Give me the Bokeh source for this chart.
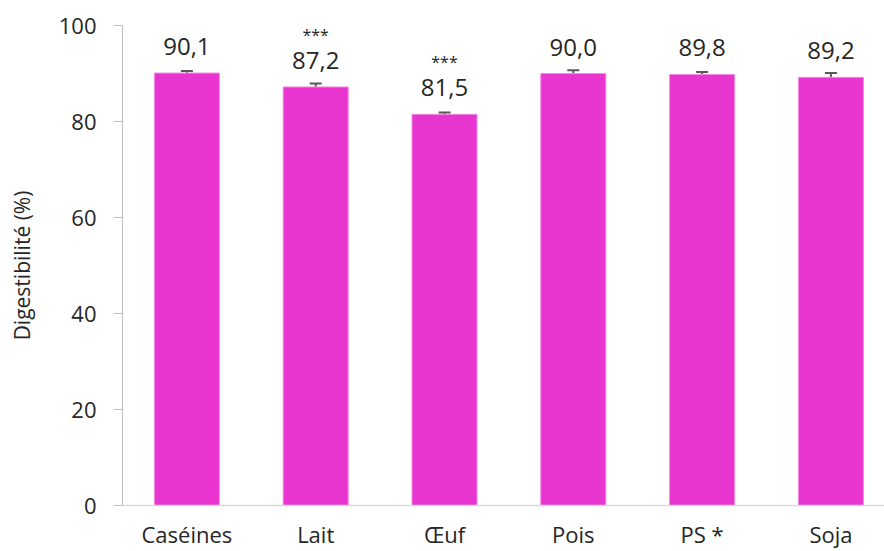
from bokeh.plotting import figure
from bokeh.models import ColumnDataSource, Range1d, FixedTicker, Whisker, TeeHead, LabelSet
from bokeh.core.properties import value
from bokeh.embed import file_html
from bokeh.resources import INLINE
import numpy as np

categories = ["Caséines", "Lait", "Œuf", "Pois", "PS *", "Soja"]
values = [90.1, 87.2, 81.5, 90.0, 89.8, 89.2]
errors = [0.4, 0.7, 0.4, 0.7, 0.5, 0.9]
value_labels = ["90,1", "87,2", "81,5", "90,0", "89,8", "89,2"]
signif = ["", "***", "***", "", "", ""]
y_ticks = [0, 20, 40, 60, 80, 100]

x = np.arange(len(categories)) + 0.5
v = np.array(values)
e = np.array(errors)
src = ColumnDataSource(dict(x=x, value=v, upper=v + e, lower=v - e,
                            label=value_labels, sig=signif))

FONT = "Open Sans"
TXT = "#262626"

p = figure(width=884, height=551, output_backend="svg", toolbar_location=None,
           x_range=Range1d(0, 5.916), y_range=Range1d(0, 100),
           min_border_left=122, min_border_top=25, min_border_bottom=46, min_border_right=0)
p.outline_line_color = None
p.xgrid.grid_line_color = None
p.ygrid.grid_line_color = None

p.vbar(x="x", top="value", width=0.505, source=src, fill_color="#E935CF",
       line_color="#F28BE3", line_width=1)

w = Whisker(base="x", upper="upper", lower="lower", source=src,
            line_color="#595959", line_width=2,
            upper_head=TeeHead(size=12, line_color="#595959", line_width=2),
            lower_head=TeeHead(size=12, line_color="#595959", line_width=2))
p.add_layout(w)

p.add_layout(LabelSet(x="x", y="value", text="label", source=src, y_offset=18,
                      text_align="center", text_baseline="alphabetic",
                      text_font=value(FONT), text_font_size=value("24px"), text_color=TXT))
p.add_layout(LabelSet(x="x", y="value", text="sig", source=src, y_offset=46,
                      text_align="center", text_baseline="alphabetic",
                      text_font=value(FONT), text_font_size=value("16px"), text_color=TXT))

# y axis
ya = p.yaxis[0]
ya.ticker = FixedTicker(ticks=y_ticks)
ya.axis_line_color = "#BFBFBF"
ya.major_tick_line_color = "#BFBFBF"
ya.major_tick_out = 9
ya.major_tick_in = 0
ya.minor_tick_line_color = None
ya.major_label_standoff = 17
ya.major_label_text_font = FONT
ya.major_label_text_font_size = "22px"
ya.major_label_text_color = TXT
ya.axis_label = "Digestibilité (%)"
ya.axis_label_text_font = FONT
ya.axis_label_text_font_size = "21px"
ya.axis_label_text_font_style = "normal"
ya.axis_label_text_color = TXT
ya.axis_label_standoff = 20

# x axis
xa = p.xaxis[0]
xa.ticker = FixedTicker(ticks=list(x))
xa.major_label_overrides = {float(xi): c for xi, c in zip(x, categories)}
xa.axis_line_color = "#D9D9D9"
xa.axis_line_width = 1.5
xa.major_tick_line_color = None
xa.minor_tick_line_color = None
xa.major_tick_out = 0
xa.major_tick_in = 0
xa.major_label_standoff = 13
xa.major_label_text_font = FONT
xa.major_label_text_font_size = "22px"
xa.major_label_text_color = TXT

open("out.html", "w").write(file_html(p, INLINE))
